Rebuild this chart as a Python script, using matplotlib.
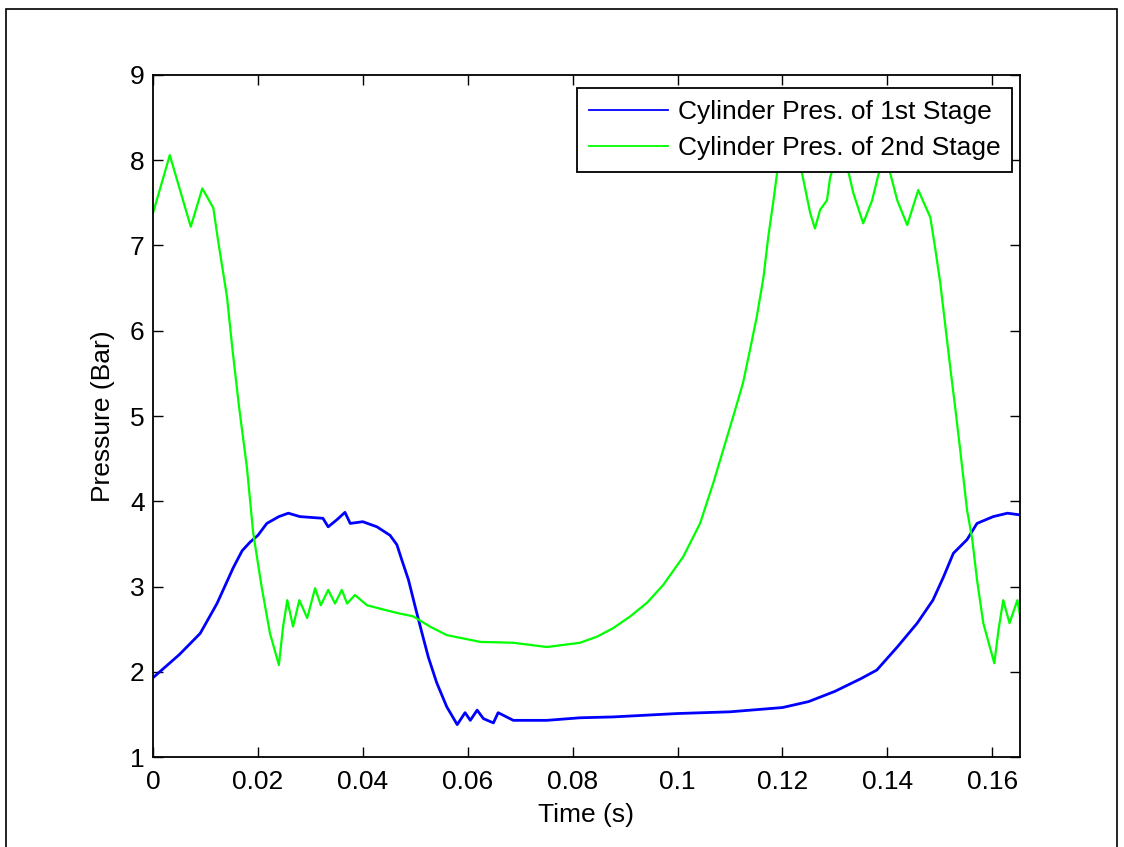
import matplotlib
matplotlib.use("Agg")
import matplotlib.pyplot as plt
from matplotlib.patches import Rectangle

plt.rcParams['font.family'] = ['Liberation Sans', 'DejaVu Sans']

# Time (s) and pressure (Bar)
t_stage1 = [0.0, 0.005, 0.009, 0.0122, 0.0153, 0.0170, 0.0185, 0.0200, 0.0217,
            0.0240, 0.0258, 0.0280, 0.0324, 0.0334, 0.0350, 0.0366, 0.0376,
            0.0400, 0.0427, 0.0452, 0.0465, 0.0475, 0.0487, 0.0500, 0.0513,
            0.0525, 0.0541, 0.0560, 0.0580, 0.0595, 0.0605, 0.0618, 0.0630,
            0.0649, 0.0658, 0.0687, 0.0751, 0.0814, 0.0877, 0.1000, 0.1100,
            0.1200, 0.1250, 0.1300, 0.1350, 0.1380, 0.1419, 0.1457, 0.1487,
            0.1507, 0.1526, 0.1552, 0.1571, 0.1602, 0.1629, 0.1653]
p_stage1 = [1.93, 2.20, 2.45, 2.80, 3.22, 3.42, 3.52, 3.60, 3.74,
            3.82, 3.86, 3.82, 3.80, 3.70, 3.78, 3.87, 3.74,
            3.76, 3.70, 3.60, 3.49, 3.30, 3.08, 2.76, 2.45,
            2.17, 1.87, 1.59, 1.38, 1.52, 1.43, 1.55, 1.45,
            1.40, 1.52, 1.43, 1.43, 1.46, 1.47, 1.51, 1.53,
            1.58, 1.65, 1.77, 1.92, 2.02, 2.29, 2.57, 2.84,
            3.11, 3.39, 3.55, 3.74, 3.82, 3.86, 3.84]

t_stage2 = [0.0, 0.0032, 0.0072, 0.0094, 0.0115, 0.0124, 0.0141, 0.0151, 0.0164,
            0.0179, 0.0191, 0.0207, 0.0223, 0.0240, 0.0248, 0.0256, 0.0267,
            0.0279, 0.0294, 0.0309, 0.0320, 0.0334, 0.0347, 0.0360, 0.0370,
            0.0385, 0.0408, 0.0433, 0.0465, 0.0496, 0.0528, 0.0560, 0.0624,
            0.0687, 0.0751, 0.0814, 0.0846, 0.0877, 0.0910, 0.0942, 0.0973,
            0.1011, 0.1043, 0.1068, 0.1087, 0.1106, 0.1125, 0.1138, 0.1151,
            0.1164, 0.1173, 0.1183, 0.1190, 0.1210, 0.1237, 0.1253, 0.1262,
            0.1272, 0.1285, 0.1291, 0.1305, 0.1326, 0.1335, 0.1354, 0.1371,
            0.1383, 0.1395, 0.1405, 0.1419, 0.1438, 0.1459, 0.1482, 0.1491,
            0.1501, 0.1510, 0.1520, 0.1530, 0.1539, 0.1552, 0.1562, 0.1571,
            0.1583, 0.1604, 0.1612, 0.1621, 0.1633, 0.1648, 0.1653]
p_stage2 = [7.38, 8.06, 7.22, 7.67, 7.44, 7.06, 6.40, 5.81, 5.11,
            4.40, 3.63, 3.00, 2.45, 2.08, 2.53, 2.84, 2.53,
            2.84, 2.63, 2.98, 2.78, 2.96, 2.80, 2.96, 2.80,
            2.90, 2.78, 2.74, 2.69, 2.65, 2.53, 2.43, 2.35,
            2.34, 2.29, 2.34, 2.41, 2.51, 2.65, 2.81, 3.02,
            3.35, 3.74, 4.21, 4.60, 4.99, 5.39, 5.77, 6.16,
            6.63, 7.10, 7.53, 7.86, 8.05, 7.86, 7.38, 7.20,
            7.42, 7.53, 7.80, 8.05, 7.86, 7.62, 7.26, 7.53,
            7.83, 8.05, 7.86, 7.53, 7.24, 7.65, 7.33, 6.98,
            6.56, 6.09, 5.57, 5.07, 4.60, 3.90, 3.55, 3.08,
            2.57, 2.10, 2.49, 2.84, 2.57, 2.84, 2.66]

x_ticks = [0, 0.02, 0.04, 0.06, 0.08, 0.1, 0.12, 0.14, 0.16]
x_tick_labels = ['0', '0.02', '0.04', '0.06', '0.08', '0.1', '0.12', '0.14', '0.16']
y_ticks = [1, 2, 3, 4, 5, 6, 7, 8, 9]

W, H = 1124, 847
FS = 19
fig = plt.figure(figsize=(W / 100, H / 100), dpi=100)
fig.patch.set_facecolor('white')
ax = fig.add_axes([153 / W, 1 - 757 / H, (1020 - 153) / W, (757 - 75) / H])

ax.plot(t_stage1, p_stage1, color='#0000ff', lw=2.0, label='Cylinder Pres. of 1st Stage')
ax.plot(t_stage2, p_stage2, color='#00ff00', lw=1.6, label='Cylinder Pres. of 2nd Stage')

ax.set_xlim(0, 0.1653)
ax.set_ylim(1, 9)
ax.set_xticks(x_ticks)
ax.set_xticklabels(x_tick_labels)
ax.set_yticks(y_ticks)
ax.tick_params(direction='in', top=True, right=True, length=7, width=1.0,
               labelsize=FS)
ax.tick_params(axis='x', pad=9)
ax.tick_params(axis='y', pad=6)
for s in ax.spines.values():
    s.set_linewidth(1.3)
ax.set_xlabel('Time (s)', fontsize=FS, labelpad=7)
ax.set_ylabel('Pressure (Bar)', fontsize=FS, labelpad=11)

leg = ax.legend(loc='upper right', bbox_to_anchor=(1012 / W, 1 - 88 / H),
                bbox_transform=fig.transFigure, borderaxespad=0,
                fontsize=FS, frameon=True, fancybox=False,
                framealpha=1, edgecolor='black',
                handlelength=3.0, handletextpad=0.35, labelspacing=0.45,
                borderpad=0.45)
leg.get_frame().set_linewidth(1.3)
for line in leg.get_lines():
    line.set_linewidth(1.3)

# outer figure border
fig.add_artist(Rectangle((6 / W, -0.02), (1117 - 6) / W, 1 - 9 / H + 0.02,
                         transform=fig.transFigure, fill=False,
                         edgecolor='black', lw=1.2))

fig.savefig('out.png', dpi=100)
